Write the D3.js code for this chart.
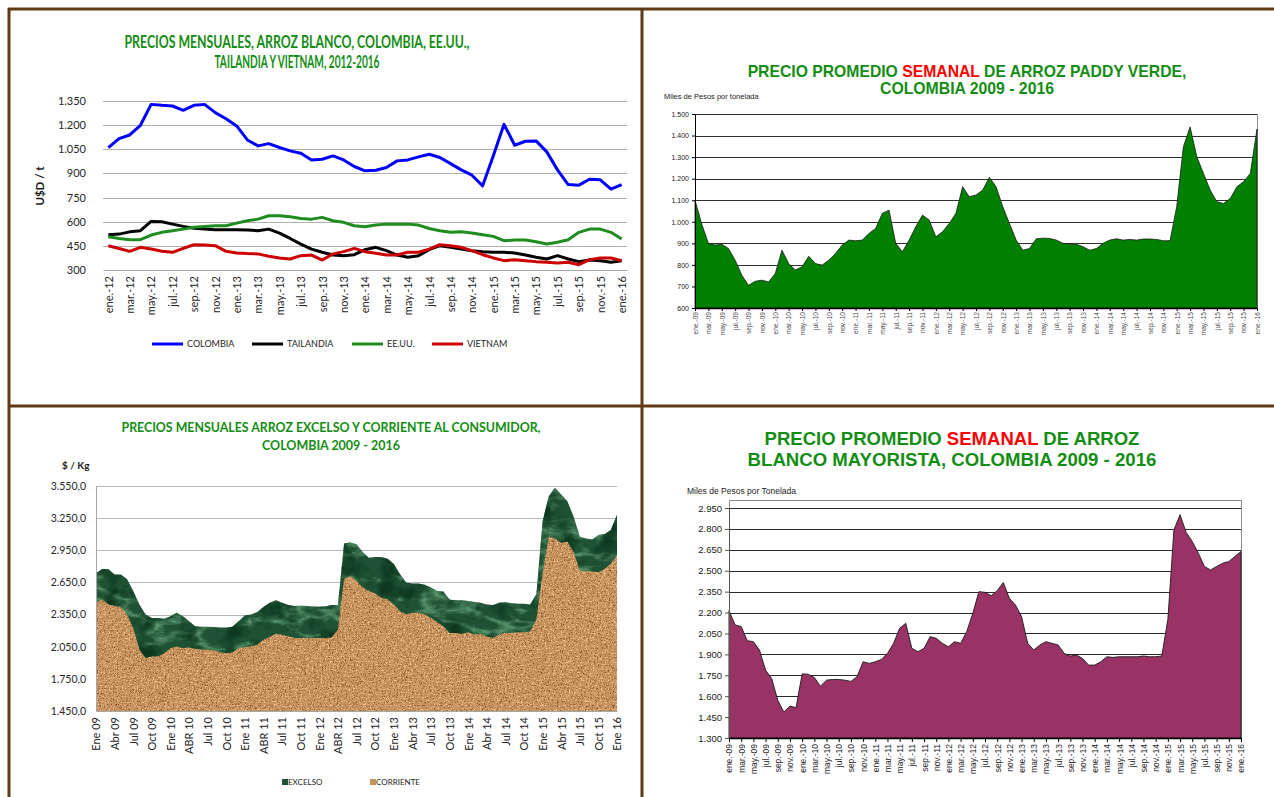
<!DOCTYPE html>
<html lang="es">
<head>
<meta charset="utf-8">
<title>Precios del arroz, Colombia 2009-2016</title>
<script src="https://cdn.jsdelivr.net/npm/d3@7"></script>
<style>
  body { margin: 0; background: #fff; }
  svg { display: block; }
</style>
</head>
<body>
<svg id="chart" width="1274" height="797"></svg>
<script>
// ---- datos ----
var mesesAbr = ["ene", "feb", "mar", "abr", "may", "jun", "jul", "ago", "sep", "oct", "nov", "dic"];

// precios mensuales arroz blanco, U$D / t, ene.-12 .. ene.-16
var colombia  = [1060,1116,1139,1199,1329,1323,1319,1292,1323,1329,1278,1240,1195,1108,1071,1085,1061,1040,1025,984,988,1009,984,943,916,920,937,978,984,1003,1019,999,961,922,889,823,1010,1205,1075,1100,1102,1034,922,831,827,864,860,802,831];
var tailandia = [519,523,537,544,602,600,585,571,560,554,550,550,550,548,544,554,529,496,461,430,410,393,389,395,426,441,420,393,379,389,426,451,441,430,420,414,410,410,405,393,379,368,389,368,352,362,358,348,358];
var eeuu      = [506,496,488,488,517,534,544,554,565,571,575,575,591,606,616,637,637,631,620,616,627,606,596,575,569,579,585,585,585,579,558,544,534,538,530,519,509,482,486,486,476,461,472,488,534,554,554,534,492];
var vietnam   = [451,434,416,441,430,416,410,434,457,455,451,416,406,402,400,386,375,368,389,393,362,400,414,434,414,404,393,393,410,410,430,457,451,441,420,395,375,358,364,358,352,348,344,348,333,364,375,375,358];
var seriesUsd = ["COLOMBIA", "TAILANDIA", "EE.UU.", "VIETNAM"];
var ticksUsd = [300, 450, 600, 750, 900, 1050, 1200, 1350];

// arroz paddy verde, miles de pesos por tonelada, ene.-09 .. ene.-16 (un valor por mes)
var paddyVerde = [1100,990,900,892,896,876,822,752,705,724,729,721,
                  760,868,806,776,791,840,806,799,822,853,892,915,
                  912,915,946,969,1039,1054,900,861,915,977,1031,1008,
                  930,954,992,1039,1163,1116,1124,1147,1206,1163,1070,992,
                  915,868,876,921,924,923,915,900,896,896,884,868,
                  876,900,915,921,915,918,915,920,920,918,912,912,
                  1070,1348,1440,1302,1224,1147,1093,1085,1108,1163,1186,1224,
                  1430];
var ticksPaddy = [600, 700, 800, 900, 1000, 1100, 1200, 1300, 1400, 1500];

// arroz excelso y corriente al consumidor, $ / Kg, ene 09 .. ene 16
var excelso = [2735,2776,2776,2723,2723,2682,2571,2445,2350,2318,2318,2312,
               2334,2366,2334,2287,2240,2236,2236,2233,2230,2230,2236,2287,
               2344,2350,2375,2420,2461,2483,2461,2439,2429,2432,2429,2426,
               2423,2426,2439,2439,3013,3023,3007,2934,2880,2887,2887,2871,
               2824,2729,2650,2641,2641,2628,2603,2571,2565,2489,2483,2483,
               2476,2467,2461,2445,2439,2461,2464,2455,2451,2451,2445,2540,
               3218,3455,3534,3471,3408,3266,3076,3060,3051,3092,3101,3139,
               3281];
var corriente = [2460,2492,2445,2429,2420,2350,2225,2021,1942,1958,1958,1989,
                 2036,2052,2036,2043,2030,2021,2021,2015,1999,1989,1996,2036,
                 2046,2052,2068,2115,2140,2171,2162,2146,2131,2131,2131,2131,
                 2131,2131,2137,2209,2682,2707,2666,2603,2571,2546,2508,2492,
                 2445,2382,2350,2366,2366,2350,2319,2278,2240,2178,2178,2168,
                 2184,2162,2171,2146,2131,2162,2178,2178,2184,2184,2193,2303,
                 2729,3076,3060,3019,3029,2934,2760,2754,2751,2745,2776,2824,
                 2903];
var ticksConsumidor = [1450, 1750, 2050, 2350, 2650, 2950, 3250, 3550];
var etiquetasConsumidor = ["Ene 09","Abr 09","Jul 09","Oct 09","Ene 10","ABR 10","Jul 10","Oct 10",
  "Ene 11","ABR 11","Jul 11","Oct 11","Ene 12","ABR 12","Jul 12","Oct 12","Ene 13","Abr 13","Jul 13",
  "Oct 13","Ene 14","Abr 14","Jul 14","Oct 14","Ene 15","Abr 15","Jul 15","Oct 15","Ene 16"];

// arroz blanco mayorista, miles de pesos por tonelada, ene.-09 .. ene.-16
var blancoMayorista = [2214,2111,2099,1998,1991,1931,1787,1727,1571,1487,1528,1518,
                       1760,1758,1734,1672,1715,1720,1720,1715,1706,1739,1847,1835,
                       1847,1864,1907,1979,2087,2123,1943,1919,1943,2027,2015,1979,
                       1955,1991,1979,2063,2195,2350,2345,2321,2357,2415,2302,2254,
                       2170,1979,1931,1967,1991,1979,1967,1907,1888,1895,1871,1823,
                       1823,1847,1883,1878,1883,1883,1883,1883,1888,1883,1883,1888,
                       2150,2794,2902,2775,2710,2626,2530,2506,2530,2554,2566,2602,
                       2638];
var ticksMayorista = [1300, 1450, 1600, 1750, 1900, 2050, 2200, 2350, 2500, 2650, 2800, 2950];

// ---- estilo ----
var CALIBRI = "Lato, 'Open Sans', sans-serif";
var ARIAL = "'Liberation Sans', Arial, sans-serif";
var VERDE_T = "#138d13";
var CAFE = "#5f3a14";

var es = d3.formatLocale({decimal: ",", thousands: ".", grouping: [3], currency: ["$", ""]});
var fmtMiles = es.format(",");
var fmtDecimal = es.format(",.1f");

function etiquetaMes(anio, i) {
    return mesesAbr[i % 12] + ".-" + String(anio + Math.floor(i / 12)).slice(2);
}

var svg = d3.select("#chart");
svg.append("rect").attr("width", 1274).attr("height", 797).attr("fill", "#fff");

//Ajusta el tamaño de letra para que el texto ocupe el ancho dado
function ajustarAncho(sel, ancho) {
    var largo = sel.node().getComputedTextLength();
    var fs = parseFloat(sel.attr("font-size"));
    sel.attr("font-size", (fs * ancho / largo).toFixed(2));
}

function textoTitulo(x, y, partes, familia, tam, ancho) {
    var t = svg.append("text")
        .attr("x", x).attr("y", y)
        .attr("text-anchor", "middle")
        .attr("font-family", familia)
        .attr("font-weight", "bold")
        .attr("font-size", tam)
        .attr("fill", VERDE_T);
    partes.forEach(function(p) {
        var s = t.append("tspan").text(p[0]);
        if (p[1]) s.attr("fill", p[1]);
    });
    if (familia === CALIBRI) {
        t.attr("textLength", ancho).attr("lengthAdjust", "spacingAndGlyphs");
    } else {
        ajustarAncho(t, ancho);
    }
    return t;
}

function etiquetasRotadas(g, tam, color, familia, sep) {
    g.selectAll(".tick text")
        .attr("transform", "rotate(-90)")
        .attr("text-anchor", "end")
        .attr("x", -sep).attr("y", 0).attr("dy", "0.35em")
        .attr("font-size", tam)
        .attr("fill", color)
        .attr("font-family", familia);
}

function estiloEtiquetasY(g, tam, color, familia) {
    g.selectAll(".tick text")
        .attr("font-size", tam)
        .attr("fill", color)
        .attr("font-family", familia);
}

function rejilla(y, ticks, x0, x1, color) {
    var g = svg.append("g")
        .attr("transform", "translate(" + x0 + ",0)")
        .call(d3.axisLeft(y).tickValues(ticks).tickSize(-(x1 - x0)).tickFormat(""));
    g.select(".domain").remove();
    g.selectAll("line").attr("stroke", color).attr("shape-rendering", "crispEdges");
    return g;
}

// ---- filtros de textura para las areas del consumidor ----
var defs = svg.append("defs");
var marmol = defs.append("filter").attr("id", "marmol")
    .attr("filterUnits", "userSpaceOnUse")
    .attr("x", 90).attr("y", 470).attr("width", 540).attr("height", 250)
    .attr("color-interpolation-filters", "sRGB");
marmol.append("feTurbulence").attr("type", "turbulence")
    .attr("baseFrequency", "0.02 0.045").attr("numOctaves", 4).attr("seed", 11).attr("result", "t");
marmol.append("feColorMatrix").attr("in", "t").attr("type", "matrix")
    .attr("values", "0 0 0 0 0.40  0 0 0 0 0.64  0 0 0 0 0.48  -3.2 0 0 0 0.95").attr("result", "vetas");
marmol.append("feComposite").attr("in", "vetas").attr("in2", "SourceGraphic").attr("operator", "in").attr("result", "vetasIn");
marmol.append("feTurbulence").attr("type", "fractalNoise")
    .attr("baseFrequency", "0.05").attr("numOctaves", 3).attr("seed", 4).attr("result", "m");
marmol.append("feColorMatrix").attr("in", "m").attr("type", "matrix")
    .attr("values", "0 0 0 0 0.05  0 0 0 0 0.22  0 0 0 0 0.12  3 0 0 0 -1.4").attr("result", "sombra");
marmol.append("feComposite").attr("in", "sombra").attr("in2", "SourceGraphic").attr("operator", "in").attr("result", "sombraIn");
var mm = marmol.append("feMerge");
mm.append("feMergeNode").attr("in", "SourceGraphic");
mm.append("feMergeNode").attr("in", "vetasIn");
mm.append("feMergeNode").attr("in", "sombraIn");

var arena = defs.append("filter").attr("id", "arena")
    .attr("filterUnits", "userSpaceOnUse")
    .attr("x", 90).attr("y", 470).attr("width", 540).attr("height", 250)
    .attr("color-interpolation-filters", "sRGB");
arena.append("feTurbulence").attr("type", "fractalNoise")
    .attr("baseFrequency", "0.75").attr("numOctaves", 2).attr("seed", 3).attr("result", "n");
arena.append("feColorMatrix").attr("in", "n").attr("type", "matrix")
    .attr("values", "0 0 0 0 0.52  0 0 0 0 0.32  0 0 0 0 0.15  5 0 0 0 -2.7").attr("result", "osc");
arena.append("feColorMatrix").attr("in", "n").attr("type", "matrix")
    .attr("values", "0 0 0 0 0.95  0 0 0 0 0.80  0 0 0 0 0.60  0 -5 0 0 2.3").attr("result", "cla");
arena.append("feComposite").attr("in", "osc").attr("in2", "SourceGraphic").attr("operator", "in").attr("result", "o2");
arena.append("feComposite").attr("in", "cla").attr("in2", "SourceGraphic").attr("operator", "in").attr("result", "c2");
var ma = arena.append("feMerge");
ma.append("feMergeNode").attr("in", "SourceGraphic");
ma.append("feMergeNode").attr("in", "o2");
ma.append("feMergeNode").attr("in", "c2");

// ======== 1. precios mensuales, arroz blanco (arriba izquierda) ========
var tl = {x0: 103, x1: 627, y0: 270, y1: 101};
var xTL = d3.scalePoint().domain(d3.range(colombia.length)).range([tl.x0, tl.x1]).padding(0.5);
var yTL = d3.scaleLinear().domain([300, 1350]).range([tl.y0, tl.y1]);

textoTitulo(297, 48, [["PRECIOS MENSUALES, ARROZ BLANCO, COLOMBIA, EE.UU.,"]], CALIBRI, 16.5, 345);
textoTitulo(297, 68, [["TAILANDIA Y VIETNAM, 2012-2016"]], CALIBRI, 16.5, 165);

rejilla(yTL, ticksUsd.slice(1), tl.x0, tl.x1, "#b0b0b0");

var ejeYTL = svg.append("g").attr("transform", "translate(" + tl.x0 + ",0)")
    .call(d3.axisLeft(yTL).tickValues(ticksUsd).tickFormat(fmtMiles).tickSize(0).tickPadding(17));
ejeYTL.select(".domain").remove();
estiloEtiquetasY(ejeYTL, 11, "#262626", CALIBRI);

var ejeXTL = svg.append("g").attr("transform", "translate(0," + tl.y0 + ")")
    .call(d3.axisBottom(xTL).tickValues(d3.range(0, colombia.length, 2))
        .tickFormat(function(i) { return etiquetaMes(2012, i); }).tickSize(0).tickSizeOuter(0));
ejeXTL.select(".domain").attr("stroke", "#a6a6a6");
etiquetasRotadas(ejeXTL, 11, "#262626", CALIBRI, 6);

svg.append("text")
    .attr("transform", "translate(44,186) rotate(-90)")
    .attr("text-anchor", "middle")
    .attr("font-family", CALIBRI).attr("font-weight", "bold").attr("font-size", 11.5)
    .attr("fill", "#1a1a1a")
    .text("U$D / t");

var coloresUsd = ["#0000ff", "#000000", "#1e8c1e", "#cc0000"];
var linea = d3.line().x(function(d, i) { return xTL(i); }).y(function(d) { return yTL(d); });
[colombia, tailandia, eeuu, vietnam].forEach(function(serie, k) {
    svg.append("path")
        .attr("d", linea(serie))
        .attr("fill", "none")
        .attr("stroke", coloresUsd[k])
        .attr("stroke-width", 3)
        .attr("stroke-linejoin", "round");
});

var leyendaX = [152, 252, 352, 432];
seriesUsd.forEach(function(nombre, k) {
    svg.append("line")
        .attr("x1", leyendaX[k]).attr("x2", leyendaX[k] + 31)
        .attr("y1", 344).attr("y2", 344)
        .attr("stroke", coloresUsd[k]).attr("stroke-width", 3);
    svg.append("text")
        .attr("x", leyendaX[k] + 35).attr("y", 344).attr("dy", "0.35em")
        .attr("font-family", CALIBRI).attr("font-size", 9).attr("fill", "#262626")
        .text(nombre);
});

// ======== 2. paddy verde semanal (arriba derecha) ========
var tr = {x0: 695, x1: 1257, y0: 308, y1: 114};
var xTR = d3.scaleLinear().domain([0, paddyVerde.length - 1]).range([tr.x0, tr.x1]);
var yTR = d3.scaleLinear().domain([600, 1500]).range([tr.y0, tr.y1]);

textoTitulo(967, 77, [["PRECIO PROMEDIO "], ["SEMANAL", "#ff0000"], [" DE ARROZ PADDY VERDE,"]], ARIAL, 16, 439);
textoTitulo(967, 94, [["COLOMBIA 2009 - 2016"]], ARIAL, 16, 174);

svg.append("text")
    .attr("x", 664).attr("y", 99)
    .attr("font-family", ARIAL).attr("font-size", 7.5).attr("fill", "#1a1a1a")
    .text("Miles de Pesos por tonelada");

svg.append("rect")
    .attr("x", tr.x0).attr("y", tr.y1).attr("width", tr.x1 - tr.x0).attr("height", tr.y0 - tr.y1)
    .attr("fill", "none").attr("stroke", "#8c8c8c").attr("shape-rendering", "crispEdges");
rejilla(yTR, ticksPaddy.slice(1), tr.x0, tr.x1, "#303030");

var areaTR = d3.area()
    .x(function(d, i) { return xTR(i); })
    .y0(tr.y0)
    .y1(function(d) { return yTR(d); });
svg.append("path")
    .attr("d", areaTR(paddyVerde))
    .attr("fill", "#008000")
    .attr("stroke", "#1a1a1a").attr("stroke-width", 0.8);

var ejeYTR = svg.append("g").attr("transform", "translate(" + tr.x0 + ",0)")
    .call(d3.axisLeft(yTR).tickValues(ticksPaddy).tickFormat(fmtMiles).tickSize(3).tickPadding(3).tickSizeOuter(0));
ejeYTR.selectAll("line, .domain").attr("stroke", "#000");
estiloEtiquetasY(ejeYTR, 7, "#1a1a1a", ARIAL);

var ejeXTR = svg.append("g").attr("transform", "translate(0," + tr.y0 + ")")
    .call(d3.axisBottom(xTR).tickValues(d3.range(0, paddyVerde.length, 2))
        .tickFormat(function(i) { return etiquetaMes(2009, i); }).tickSize(3).tickSizeOuter(0));
ejeXTR.select(".domain").attr("stroke", "#000").attr("stroke-width", 1.5);
ejeXTR.selectAll("line").attr("stroke", "#000");
etiquetasRotadas(ejeXTR, 6.6, "#4d4d4d", ARIAL, 4);

// ======== 3. excelso y corriente al consumidor (abajo izquierda) ========
var bl = {x0: 96, x1: 617, y0: 711, y1: 486};
var xBL = d3.scaleLinear().domain([0, excelso.length - 1]).range([bl.x0, bl.x1]);
var yBL = d3.scaleLinear().domain([1450, 3550]).range([bl.y0, bl.y1]);

textoTitulo(331, 432, [["PRECIOS MENSUALES ARROZ EXCELSO Y CORRIENTE AL CONSUMIDOR,"]], CALIBRI, 14, 419);
textoTitulo(331, 450, [["COLOMBIA 2009 - 2016"]], CALIBRI, 14, 138);

svg.append("text")
    .attr("x", 62).attr("y", 469)
    .attr("font-family", CALIBRI).attr("font-weight", "bold").attr("font-size", 10)
    .attr("fill", "#1a1a1a")
    .text("$ / Kg");

rejilla(yBL, ticksConsumidor.slice(1), bl.x0, bl.x1, "#b8b8b8");

var areaBL = d3.area()
    .x(function(d, i) { return xBL(i); })
    .y0(bl.y0)
    .y1(function(d) { return yBL(d); });
svg.append("path")
    .attr("d", areaBL(excelso))
    .attr("fill", "#1f5234")
    .attr("filter", "url(#marmol)");
svg.append("path")
    .attr("d", areaBL(corriente))
    .attr("fill", "#c8925d")
    .attr("filter", "url(#arena)");

var ejeYBL = svg.append("g").attr("transform", "translate(" + bl.x0 + ",0)")
    .call(d3.axisLeft(yBL).tickValues(ticksConsumidor).tickFormat(fmtDecimal).tickSize(0).tickPadding(10));
ejeYBL.select(".domain").attr("stroke", "#a6a6a6");
estiloEtiquetasY(ejeYBL, 10.5, "#262626", CALIBRI);

var ejeXBL = svg.append("g").attr("transform", "translate(0," + bl.y0 + ")")
    .call(d3.axisBottom(xBL).tickValues(d3.range(0, excelso.length, 3))
        .tickFormat(function(i) { return etiquetasConsumidor[i / 3]; }).tickSize(0).tickSizeOuter(0));
ejeXBL.select(".domain").attr("stroke", "#a6a6a6");
etiquetasRotadas(ejeXBL, 11, "#262626", CALIBRI, 6);

var leyendaBL = [["EXCELSO", "#1f5434", 283], ["CORRIENTE", "#c8925d", 371]];
leyendaBL.forEach(function(l) {
    svg.append("rect")
        .attr("x", l[2] - 1).attr("y", 779).attr("width", 6).attr("height", 6)
        .attr("fill", l[1]);
    svg.append("text")
        .attr("x", l[2] + 5).attr("y", 782).attr("dy", "0.35em")
        .attr("font-family", CALIBRI).attr("font-size", 8).attr("fill", "#262626")
        .text(l[0]);
});

// ======== 4. blanco mayorista semanal (abajo derecha) ========
var br = {x0: 729, x1: 1241, y0: 738, y1: 508};
var xBR = d3.scaleLinear().domain([0, blancoMayorista.length - 1]).range([br.x0, br.x1]);
var yBR = d3.scaleLinear().domain([1300, 2950]).range([br.y0, br.y1]);

textoTitulo(952, 445, [["PRECIO PROMEDIO "], ["SEMANAL", "#ff0000"], [" DE ARROZ"]], ARIAL, 19, 375);
textoTitulo(952, 466, [["BLANCO MAYORISTA, COLOMBIA 2009 - 2016"]], ARIAL, 19, 409);

svg.append("text")
    .attr("x", 687).attr("y", 494)
    .attr("font-family", ARIAL).attr("font-size", 8.5).attr("fill", "#1a1a1a")
    .text("Miles de Pesos por Tonelada");

svg.append("rect")
    .attr("x", br.x0).attr("y", br.y1 - 8).attr("width", br.x1 - br.x0).attr("height", br.y0 - br.y1 + 8)
    .attr("fill", "none").attr("stroke", "#8c8c8c").attr("shape-rendering", "crispEdges");
rejilla(yBR, ticksMayorista.slice(1), br.x0, br.x1, "#2a2a2a");

var areaBR = d3.area()
    .x(function(d, i) { return xBR(i); })
    .y0(br.y0)
    .y1(function(d) { return yBR(d); });
svg.append("path")
    .attr("d", areaBR(blancoMayorista))
    .attr("fill", "#993366")
    .attr("stroke", "#1a1a1a").attr("stroke-width", 0.9);

var ejeYBR = svg.append("g").attr("transform", "translate(" + br.x0 + ",0)")
    .call(d3.axisLeft(yBR).tickValues(ticksMayorista).tickFormat(fmtMiles).tickSize(4).tickPadding(3).tickSizeOuter(0));
ejeYBR.selectAll("line, .domain").attr("stroke", "#555");
estiloEtiquetasY(ejeYBR, 9.5, "#1a1a1a", ARIAL);

var ejeXBR = svg.append("g").attr("transform", "translate(0," + br.y0 + ")")
    .call(d3.axisBottom(xBR).tickValues(d3.range(0, blancoMayorista.length, 2))
        .tickFormat(function(i) { return etiquetaMes(2009, i); }).tickSize(4).tickSizeOuter(0));
ejeXBR.select(".domain").attr("stroke", "#000").attr("stroke-width", 1.5);
ejeXBR.selectAll("line").attr("stroke", "#000");
etiquetasRotadas(ejeXBR, 8.5, "#262626", ARIAL, 6);

// ---- marcos cafe entre paneles ----
var marcos = [[8, 9, 1274, 9], [9, 8, 9, 797], [642, 8, 642, 797], [8, 406, 1274, 406]];
marcos.forEach(function(m) {
    svg.append("line")
        .attr("x1", m[0]).attr("y1", m[1]).attr("x2", m[2]).attr("y2", m[3])
        .attr("stroke", CAFE).attr("stroke-width", 3);
});
</script>
</body>
</html>
